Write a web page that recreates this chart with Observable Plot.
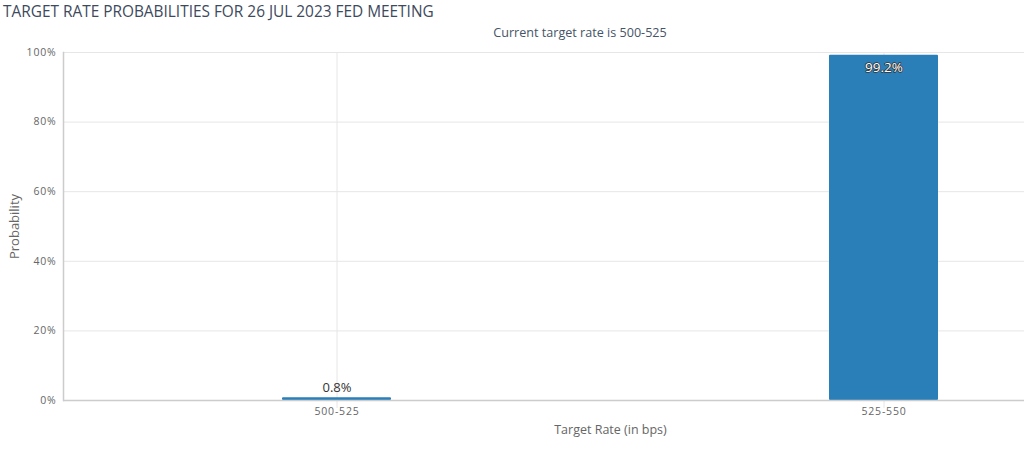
<!DOCTYPE html>
<html><head><meta charset="utf-8">
<script src="https://cdn.jsdelivr.net/npm/d3@7"></script>
<script src="https://cdn.jsdelivr.net/npm/@observablehq/plot@0.6"></script>
<style>
body{margin:0;background:#fff;font-family:"Open Sans",sans-serif;overflow:hidden;}
#wrap{width:1024px;height:452px;overflow:hidden;}
#head{position:relative;height:45px;}
#title{position:absolute;left:3px;top:1px;font-size:15.4px;color:#3d4a5d;white-space:nowrap;}
#subtitle{position:absolute;left:0;width:1160px;top:24px;text-align:center;font-size:12.6px;color:#465467;}
g[aria-label="y-axis tick label"], g[aria-label="x-axis tick label"]{letter-spacing:0.8px;}
</style></head>
<body><div id="wrap"><div id="head"><div id="title"></div><div id="subtitle"></div></div><div id="chart"></div></div>
<script>
const titleText = "TARGET RATE PROBABILITIES FOR 26 JUL 2023 FED MEETING";
const subtitleText = "Current target rate is 500-525";
const categories = ["500-525", "525-550"];
const probabilities = [0.8, 99.2];
const yTicks = [0, 20, 40, 60, 80, 100];
const xLabel = "Target Rate (in bps)";
const yLabel = "Probability";

document.getElementById("title").textContent = titleText;
document.getElementById("subtitle").textContent = subtitleText;

const data = categories.map((c, i) => ({cat: c, p: probabilities[i]}));
const fmt = d => d + "%";

const chart = Plot.plot({
  width: 1024,
  height: 407,
  marginTop: 7,
  marginBottom: 52,
  marginLeft: 63,
  marginRight: -133,
  style: {fontFamily: "Open Sans, sans-serif", fontSize: "10.5px", color: "#666", background: "#fff", overflow: "hidden"},
  x: {type: "band", domain: categories, paddingInner: 0.8, paddingOuter: 0.4, align: 0.5},
  y: {domain: [0, 100], ticks: yTicks},
  marks: [
    Plot.ruleY(yTicks.slice(1), {stroke: "#e6e6e6", strokeWidth: 1}),
    Plot.ruleX(categories, {x: d => d, y1: -2.3, y2: 100, stroke: "#e6e6e6", strokeWidth: 1}),
    Plot.barY(data, {x: "cat", y: "p", fill: "#2b7fb9", rx: 1}),
    Plot.ruleY([0], {stroke: "#ccc", strokeWidth: 1.5}),
    Plot.frame({anchor: "left", stroke: "#ccc", strokeWidth: 1.5}),
    Plot.axisY(yTicks, {tickSize: 0, tickPadding: 7, tickFormat: fmt, fill: "#666", label: null}),
    Plot.axisX({tickSize: 0, tickPadding: 7, fill: "#666", label: null}),
    Plot.text([yLabel], {frameAnchor: "left", rotate: -90, dx: -49, fill: "#666", fontSize: 13, textAnchor: "middle"}),
    Plot.text([xLabel], {frameAnchor: "bottom", dy: 33, fill: "#666", fontSize: 12.5}),
    Plot.text(data.filter(d => d.p < 50), {x: "cat", y: "p", text: d => fmt(d.p), dy: -10, fill: "#333", fontSize: 13}),
    Plot.text(data.filter(d => d.p >= 50), {x: "cat", y: "p", text: d => fmt(d.p), dy: 12, fill: "#fff", stroke: "#333", strokeWidth: 1.5, paintOrder: "stroke", fontSize: 13.5})
  ]
});
document.getElementById("chart").appendChild(chart);
</script>
</body></html>
